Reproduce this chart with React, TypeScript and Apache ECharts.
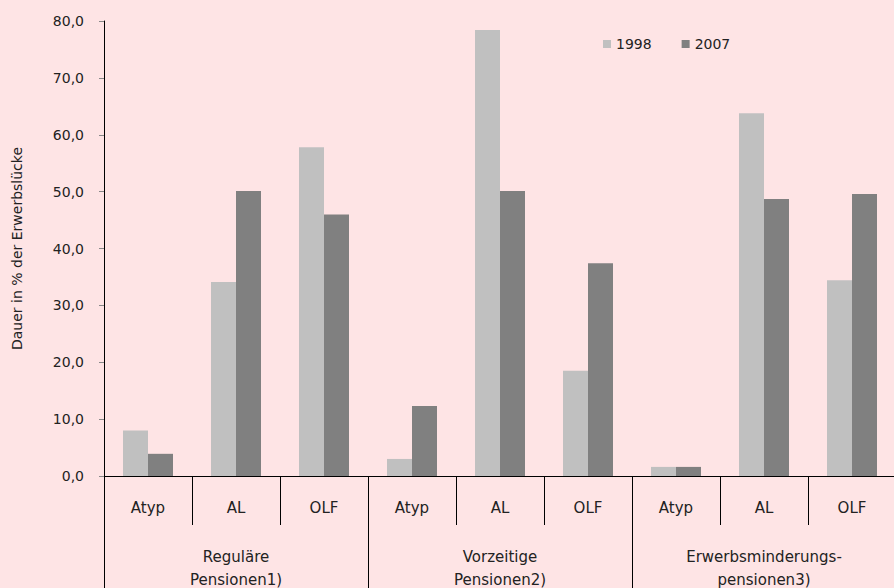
import React, { useEffect, useRef } from "react";
import * as echarts from "echarts";

const categories = ["Atyp", "AL", "OLF", "Atyp", "AL", "OLF", "Atyp", "AL", "OLF"];
const groups = ["Reguläre\nPensionen1)", "Vorzeitige\nPensionen2)", "Erwerbsminderungs-\npensionen3)"];
const values1998 = [8.0, 34.1, 57.8, 3.0, 78.4, 18.5, 1.6, 63.8, 34.4];
const values2007 = [3.9, 50.1, 46.0, 12.3, 50.1, 37.4, 1.6, 48.7, 49.6];
const seriesNames = ["1998", "2007"];

const FONT = "DejaVu Sans";
const TXT = "#222";

export default function App() {
  const ref = useRef<HTMLDivElement>(null);
  useEffect(() => {
    document.body.style.margin = "0";
    const chart = echarts.init(ref.current!, null, { renderer: "svg" });
    chart.setOption({
      animation: false,
      backgroundColor: "#fee4e5",
      textStyle: { fontFamily: FONT, color: TXT },
      legend: {
        left: 598,
        top: 32,
        itemWidth: 8,
        itemHeight: 8,
        itemGap: 30,
        icon: "rect",
        textStyle: { fontFamily: FONT, fontSize: 14, color: TXT },
        data: seriesNames,
      },
      grid: { left: 104, top: 21, width: 792, height: 455, outerBoundsMode: "none", containLabel: false },
      xAxis: [
        {
          type: "category",
          data: categories,
          position: "bottom",
          axisLine: { show: true, lineStyle: { color: "#000", width: 1 } },
          axisTick: { show: true, length: 49, lineStyle: { color: "#000" } },
          axisLabel: { margin: 24, fontSize: 15, color: TXT, fontFamily: FONT },
        },
        {
          type: "category",
          data: groups,
          position: "bottom",
          offset: 49,
          axisLine: { show: false },
          axisTick: { show: true, length: 70, lineStyle: { color: "#000" } },
          axisLabel: { margin: 20, fontSize: 15, lineHeight: 23, color: TXT, fontFamily: FONT },
        },
      ],
      yAxis: {
        type: "value",
        min: 0,
        max: 80,
        interval: 10,
        name: "Dauer in % der Erwerbslücke",
        nameLocation: "middle",
        nameGap: 80,
        nameTextStyle: { fontSize: 14, color: TXT, fontFamily: FONT },
        axisLine: { show: true, lineStyle: { color: "#000", width: 1 } },
        axisTick: { show: true, length: 5, lineStyle: { color: "#888" } },
        splitLine: { show: false },
        axisLabel: {
          margin: 20,
          fontSize: 14,
          color: TXT,
          fontFamily: FONT,
          formatter: (v: number) => v.toFixed(1).replace(".", ","),
        },
      },
      series: [
        {
          name: seriesNames[0],
          type: "bar",
          data: values1998,
          barWidth: 25,
          barGap: "0%",
          itemStyle: { color: "#c0c0c0" },
        },
        {
          name: seriesNames[1],
          type: "bar",
          data: values2007,
          barWidth: 25,
          barGap: "0%",
          itemStyle: { color: "#808080" },
        },
      ],
    });
    return () => chart.dispose();
  }, []);
  return <div ref={ref} style={{ position: "fixed", left: 0, top: 0, width: 894, height: 588 }} />;
}
